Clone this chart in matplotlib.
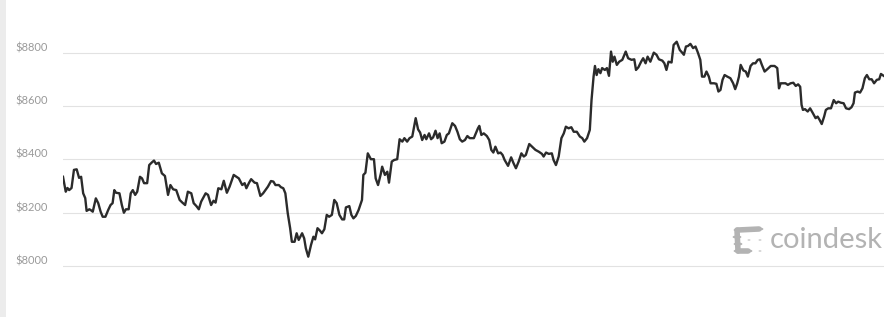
import matplotlib
matplotlib.use("Agg")
import matplotlib.pyplot as plt
from matplotlib.patches import Rectangle, Circle
from matplotlib.lines import Line2D
from matplotlib.transforms import ScaledTranslation

# ---- data (hours since start, BTC price in USD) ----
hours = [
    0.00, 0.08, 0.13, 0.18, 0.25, 0.32, 0.40, 0.47, 0.53, 0.59, 0.65, 0.69, 0.77, 0.81, 0.87,
    0.96, 1.03, 1.10, 1.16, 1.24, 1.32, 1.39, 1.45, 1.50, 1.55, 1.65, 1.72, 1.78, 1.84, 1.92,
    1.98, 2.04, 2.11, 2.17, 2.25, 2.31, 2.37, 2.46, 2.52, 2.59, 2.66, 2.72, 2.80, 2.89, 2.98,
    3.07, 3.14, 3.22, 3.31, 3.41, 3.49, 3.57, 3.65, 3.75, 3.82, 3.90, 3.97, 4.04, 4.17, 4.24,
    4.33, 4.40, 4.46, 4.54, 4.63, 4.70, 4.79, 4.87, 4.99, 5.07, 5.14, 5.24, 5.31, 5.36, 5.44,
    5.50, 5.60, 5.67, 5.77, 5.85, 5.99,
    6.08, 6.15, 6.21, 6.31, 6.37, 6.44, 6.50, 6.57, 6.64, 6.69, 6.77, 6.83, 6.89, 6.99, 7.05,
    7.10, 7.17, 7.25, 7.32, 7.37, 7.44, 7.51, 7.57, 7.64, 7.71, 7.78, 7.86, 7.93, 8.00, 8.08,
    8.16, 8.22, 8.27, 8.37, 8.43, 8.49, 8.56, 8.64, 8.74, 8.78, 8.84, 8.91, 9.00,
    9.09, 9.14, 9.21, 9.29, 9.33, 9.41, 9.48, 9.53, 9.61, 9.68, 9.77, 9.84, 9.92, 9.98, 10.06,
    10.13, 10.21, 10.31, 10.38, 10.44, 10.50, 10.57, 10.62, 10.70, 10.76, 10.82, 10.89, 10.95,
    11.01, 11.07, 11.15, 11.22, 11.28, 11.38, 11.46, 11.53, 11.60, 11.67, 11.75, 11.82, 11.89,
    12.01,
    12.13, 12.17, 12.23, 12.30, 12.39, 12.46, 12.52, 12.58, 12.64, 12.72, 12.79, 12.85, 12.91,
    13.01, 13.10, 13.17, 13.24, 13.32, 13.40, 13.47, 13.53, 13.63, 13.71, 13.81, 13.91, 14.00,
    14.05, 14.12, 14.20, 14.29, 14.34, 14.41, 14.49, 14.57, 14.64, 14.70, 14.78, 14.86, 14.93,
    15.02,
    15.11, 15.18, 15.24, 15.32, 15.40, 15.45, 15.51, 15.55, 15.60, 15.65, 15.71, 15.76, 15.84,
    15.90, 15.96, 16.02, 16.07, 16.12, 16.19, 16.26, 16.35, 16.45, 16.52, 16.62, 16.70, 16.75,
    16.82, 16.90, 16.96, 17.03, 17.09, 17.17, 17.27, 17.35, 17.42, 17.52, 17.58, 17.64, 17.70,
    17.79, 17.85, 17.94, 18.03,
    18.10, 18.15, 18.21, 18.27, 18.34, 18.42, 18.49, 18.56, 18.63, 18.68, 18.75, 18.81, 18.88,
    18.93, 19.03, 19.10, 19.16, 19.22, 19.28, 19.34, 19.42, 19.51, 19.59, 19.65, 19.71, 19.76,
    19.81, 19.89, 19.96, 20.02, 20.10, 20.17, 20.24, 20.31, 20.37, 20.43, 20.51, 20.59, 20.69,
    20.80, 20.88, 20.93, 20.98, 21.05,
    21.12, 21.19, 21.27, 21.35, 21.42, 21.49, 21.55, 21.59, 21.63, 21.69, 21.77, 21.84, 21.92,
    22.00, 22.06, 22.12, 22.18, 22.25, 22.30, 22.37, 22.45, 22.53, 22.60, 22.66, 22.74, 22.82,
    22.89, 22.98, 23.05, 23.11, 23.15, 23.23, 23.30, 23.37, 23.44, 23.50, 23.57, 23.64, 23.71,
    23.79, 23.86, 23.91, 23.99,
]
prices = [
    8335, 8279, 8293, 8285, 8293, 8361, 8363, 8331, 8335, 8273, 8255, 8207, 8213, 8210, 8204,
    8254, 8236, 8204, 8185, 8185, 8210, 8229, 8236, 8285, 8275, 8273, 8229, 8200, 8213, 8213,
    8273, 8285, 8267, 8279, 8335, 8329, 8311, 8311, 8379, 8388, 8396, 8383, 8388, 8348, 8338,
    8267, 8304, 8288, 8285, 8248, 8238, 8229, 8279, 8273, 8236, 8225, 8213, 8242, 8273, 8267,
    8229, 8245, 8238, 8292, 8288, 8320, 8275, 8298, 8342, 8335, 8329, 8304, 8311, 8292, 8313,
    8326, 8313, 8311, 8263, 8273, 8298,
    8319, 8317, 8304, 8304, 8296, 8292, 8273, 8198, 8142, 8091, 8091, 8123, 8098, 8123, 8104,
    8066, 8035, 8079, 8110, 8100, 8142, 8133, 8123, 8138, 8192, 8185, 8192, 8248, 8236, 8192,
    8175, 8175, 8220, 8225, 8192, 8179, 8188, 8210, 8248, 8342, 8350, 8423, 8401,
    8401, 8329, 8304, 8346, 8373, 8342, 8354, 8313, 8392, 8398, 8401, 8476, 8467, 8480, 8467,
    8480, 8486, 8555, 8513, 8501, 8473, 8492, 8476, 8498, 8476, 8483, 8508, 8480,
    8498, 8461, 8467, 8492, 8498, 8536, 8526, 8504, 8476, 8467, 8473, 8488, 8480,
    8480,
    8517, 8526, 8492, 8498, 8488, 8473, 8436, 8426, 8448, 8423, 8426, 8417, 8398,
    8376, 8408, 8386, 8367, 8392, 8423, 8411, 8417, 8458, 8448, 8436, 8429, 8421,
    8411, 8426, 8421, 8423, 8398, 8379, 8411, 8480, 8498, 8523, 8517, 8521, 8504,
    8504,
    8486, 8480, 8467, 8480, 8511, 8623, 8711, 8751, 8717, 8739, 8724, 8743, 8736,
    8743, 8714, 8805, 8767, 8786, 8755, 8767, 8774, 8805, 8780, 8774, 8776, 8736,
    8746, 8767, 8780, 8761, 8786, 8767, 8801, 8793, 8776, 8771, 8761, 8736, 8767,
    8764, 8830, 8842, 8811,
    8801, 8793, 8824, 8826, 8834, 8818, 8824, 8801, 8774, 8711, 8711, 8730, 8711,
    8686, 8686, 8684, 8655, 8661, 8699, 8717, 8711, 8705, 8686, 8664, 8686, 8711,
    8755, 8734, 8730, 8711, 8751, 8761, 8761, 8774, 8776, 8755, 8730, 8739, 8751,
    8751, 8743, 8667, 8686, 8686,
    8686, 8680, 8686, 8688, 8676, 8682, 8673, 8605, 8586, 8589, 8580, 8592, 8574,
    8555, 8561, 8548, 8533, 8561, 8586, 8592, 8592, 8623, 8611, 8617, 8613, 8611,
    8592, 8589, 8596, 8611, 8651, 8655, 8651, 8667, 8705, 8717, 8701, 8701, 8686,
    8699, 8701, 8721, 8714,
]
ytick_values = [8000, 8200, 8400, 8600, 8800]
ytick_labels = ["$8000", "$8200", "$8400", "$8600", "$8800"]
brand = "coindesk"

W, H = 889, 317
fig = plt.figure(figsize=(W / 100, H / 100), dpi=100)
fig.patch.set_facecolor("white")

# axes: x 63..884 px, y 30..290 px
ax = fig.add_axes([63 / W, (H - 290) / H, 821 / W, 260 / H])
ax.set_facecolor("none")
ax.plot(hours, prices, color="#2b2b2b", lw=1.7, solid_joinstyle="round")
ax.set_xlim(0, 24)
ax.set_ylim(7910, 8886)
ax.set_xticks([])
ax.set_yticks(ytick_values)
ax.set_yticklabels(ytick_labels)
ax.tick_params(axis="y", length=0, pad=10.8, labelsize=8, labelcolor="#9a9a9a")
for lab in ax.get_yticklabels():
    lab.set_fontfamily(["Lato", "DejaVu Sans"])
    lab.set_transform(lab.get_transform() + ScaledTranslation(0, 6 / 100, fig.dpi_scale_trans))
ax.grid(axis="y", color="#e2e2e2", lw=0.8)
ax.set_axisbelow(True)
for s in ax.spines.values():
    s.set_visible(False)

# left gray strip
fig.patches.append(Rectangle((0, 0), 6 / W, 1, transform=fig.transFigure,
                             facecolor="#ececec", edgecolor="none", zorder=0))

# coindesk logo (decoration)
def fx(px):
    return px / W

def fy(py):
    return (H - py) / H

logo_c = "#b3b3b3"
big = [(738, 230), (748, 229), (759, 229), (737, 237), (738, 244), (738, 251), (748, 251)]
for (a, b), (c, d) in [((738, 230), (759, 229)), ((737, 230), (738, 251)), ((738, 251), (748, 251))]:
    fig.lines.append(Line2D([fx(a), fx(c)], [fy(b), fy(d)], transform=fig.transFigure,
                            color=logo_c, lw=4.0, solid_capstyle="round"))
for (a, b) in big:
    fig.patches.append(Circle((fx(a), fy(b)), 4.4 / W, transform=fig.transFigure,
                              facecolor=logo_c, edgecolor="none"))
for (a, b) in [(749, 240), (760, 240), (760, 251)]:
    fig.patches.append(Circle((fx(a), fy(b)), 1.5 / W, transform=fig.transFigure,
                              facecolor=logo_c, edgecolor="none"))
fig.text(fx(770), fy(248.5), brand, fontsize=21, color=logo_c, ha="left", va="baseline",
         family=["Lato", "DejaVu Sans"], fontweight="normal")

fig.savefig("out.png", dpi=100)
